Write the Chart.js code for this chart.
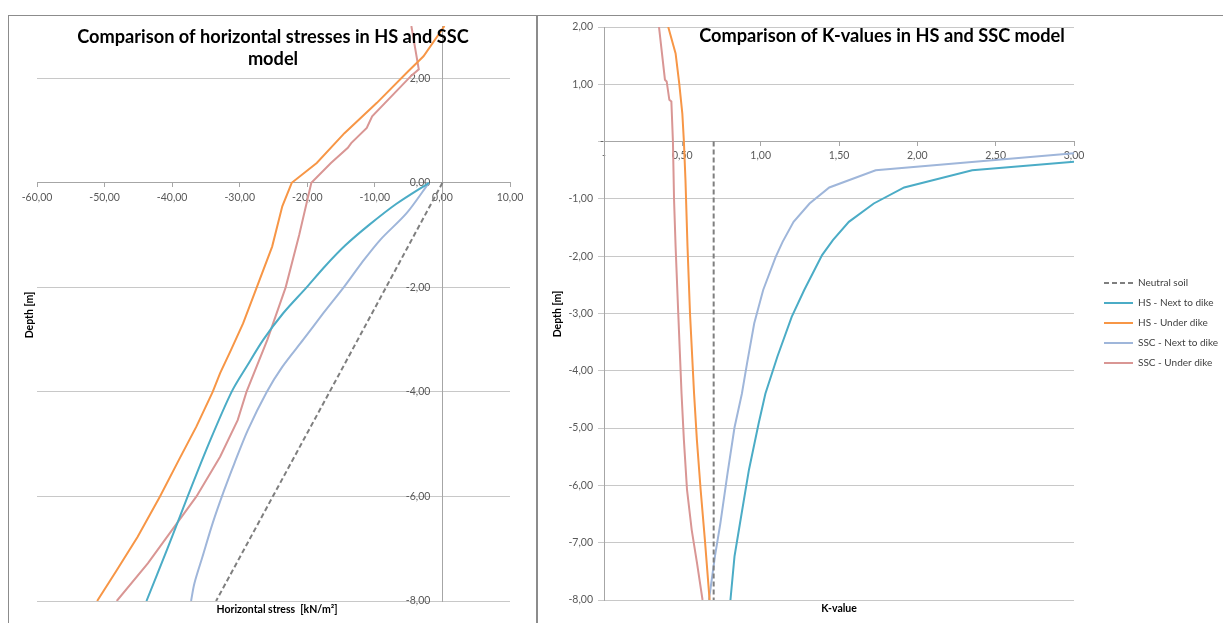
<!DOCTYPE html>
<html>
<head>
<meta charset="utf-8">
<script src="https://cdn.jsdelivr.net/npm/chart.js@4.4.1/dist/chart.umd.min.js"></script>
<style>
	body { margin: 0; background: #fff; width: 1223px; height: 623px; overflow: hidden; position: relative; }
	.frame { position: absolute; border: 1px solid #8c8c8c; }
	.box { position: absolute; top: 0; height: 623px; }
</style>
</head>
<body>
	<div class="frame" style="left: 8px; top: 15px; width: 527px; height: 640px"></div>
	<div class="frame" style="left: 537px; top: 15px; width: 700px; height: 640px"></div>

	<div class="box" style="left: 0; width: 536px"><canvas id="chartStress"></canvas></div>
	<div class="box" style="left: 540px; width: 683px"><canvas id="chartK"></canvas></div>

	<script type="text/javascript">
		// ---- left chart: horizontal stress [kN/m2] against depth [m]
		var stressTicks = [-60, -50, -40, -30, -20, -10, 0, 10];
		var stressDepthTicks = [-8, -6, -4, -2, 0, 2];

		var neutralStress = [0, -16.7, -33.5];
		var neutralStressDepth = [0, -4, -8];

		var hsNextStress = [-2.0, -6.8, -10.8, -14.4, -17.4, -20.1, -23.6, -26.5, -28.9, -31.2, -34.6, -37.7, -40.7, -43.8];
		var hsNextStressDepth = [0, -0.4, -0.8, -1.2, -1.6, -2.0, -2.5, -3.0, -3.5, -4.0, -5.0, -6.0, -7.0, -8.0];

		var hsUnderStress = [0.3, -2.8, -5.1, -9.7, -14.5, -18.6, -22.3, -23.7, -25.2, -27.8, -29.5, -31.3, -32.9, -34.0, -36.4, -39.0, -41.8, -45.1, -48.2, -51.1];
		var hsUnderStressDepth = [3.0, 2.42, 2.13, 1.53, 0.95, 0.38, 0, -0.45, -1.22, -2.11, -2.69, -3.2, -3.64, -4.0, -4.66, -5.3, -6.0, -6.77, -7.41, -8.0];

		var sscNextStress = [-2.0, -5.3, -9.2, -12.0, -14.5, -17.6, -20.6, -23.7, -26.0, -28.8, -30.8, -32.3, -34.0, -35.5, -36.7, -37.2];
		var sscNextStressDepth = [0, -0.58, -1.09, -1.54, -1.98, -2.49, -3.0, -3.52, -4.0, -4.73, -5.37, -5.88, -6.51, -7.15, -7.66, -8.0];

		var sscUnderStress = [-4.6, -3.5, -4.6, -10.4, -11.2, -13.5, -14.0, -16.5, -19.4, -21.2, -23.2, -25.9, -29.0, -30.3, -32.9, -36.4, -40.0, -43.6, -48.2];
		var sscUnderStressDepth = [3.0, 2.17, 2.05, 1.27, 1.05, 0.76, 0.67, 0.38, 0, -1.0, -2.0, -3.0, -4.0, -4.54, -5.24, -6.0, -6.64, -7.28, -8.0];

		// ---- right chart: K-value against depth [m]
		var kTicks = [0, 0.5, 1, 1.5, 2, 2.5, 3];
		var kDepthTicks = [-8, -7, -6, -5, -4, -3, -2, -1, 0, 1, 2];

		var neutralK = [0.70, 0.70];
		var neutralKDepth = [0, -8];

		var hsNextK = [3.0, 2.35, 1.916, 1.722, 1.563, 1.461, 1.392, 1.278, 1.198, 1.107, 1.03, 0.987, 0.925, 0.868, 0.833, 0.807];
		var hsNextKDepth = [-0.35, -0.50, -0.80, -1.08, -1.40, -1.72, -1.98, -2.59, -3.06, -3.75, -4.4, -4.92, -5.73, -6.66, -7.24, -8.0];

		var hsUnderK = [0.41, 0.457, 0.48, 0.50, 0.51, 0.52, 0.533, 0.549, 0.575, 0.593, 0.617, 0.644, 0.674];
		var hsUnderKDepth = [2.0, 1.54, 1.02, 0.49, 0.0, -0.67, -1.83, -3.0, -4.4, -5.21, -6.08, -6.95, -8.0];

		var sscNextK = [3.0, 1.734, 1.438, 1.312, 1.21, 1.14, 1.096, 1.016, 0.959, 0.913, 0.88, 0.833, 0.788, 0.743, 0.708, 0.67];
		var sscNextKDepth = [-0.205, -0.50, -0.80, -1.08, -1.40, -1.75, -2.01, -2.59, -3.17, -3.87, -4.4, -4.99, -5.80, -6.66, -7.24, -8.0];

		var sscUnderK = [0.351, 0.389, 0.40, 0.417, 0.43, 0.44, 0.447, 0.457, 0.474, 0.495, 0.51, 0.53, 0.56, 0.594, 0.629];
		var sscUnderKDepth = [2.0, 1.08, 1.05, 0.73, 0.70, 0.0, -1.0, -1.83, -3.0, -4.4, -5.21, -6.08, -6.78, -7.36, -8.0];

		var seriesNames = ['Neutral soil', 'HS - Next to dike', 'HS - Under dike', 'SSC - Next to dike', 'SSC - Under dike'];
		var seriesColors = ['#7f7f7f', '#4bacc6', '#f79646', '#9fb6da', '#d99694'];

		var gridColor = '#c8c8c8';
		var axisColor = '#a6a6a6';
		var tickColor = '#595959';
		var tickFont = { family: 'Lato', size: 10.5 };

		function comma(v) {
			return v.toFixed(2).replace('.', ',');
		}

		function points(xs, ys) {
			var pts = [];
			for (var i = 0; i < xs.length; i++) {
				pts.push({ x: xs[i], y: ys[i] });
			}
			return pts;
		}

		function makeDatasets(pairs, tensions) {
			return pairs.map(function (p, i) {
				return {
					label: seriesNames[i],
					data: points(p[0], p[1]),
					borderColor: seriesColors[i],
					backgroundColor: seriesColors[i],
					borderWidth: 2,
					borderDash: i == 0 ? [5, 3] : [],
					showLine: true,
					pointRadius: 0,
					tension: tensions ? tensions[i] : 0
				};
			});
		}

		function fixedTicks(list) {
			return function (scale) {
				scale.ticks = list.map(function (v) { return { value: v }; });
			};
		}

		// titles and axis titles drawn as text on the canvas
		var textPlugin = {
			id: 'texts',
			afterDraw: function (chart, args, opts) {
				var ctx = chart.ctx;
				opts.items.forEach(function (t) {
					ctx.save();
					ctx.fillStyle = t.color || '#000';
					ctx.font = t.font;
					ctx.textAlign = 'center';
					ctx.textBaseline = t.baseline || 'alphabetic';
					ctx.translate(t.x, t.y);
					if (t.rot) ctx.rotate(t.rot);
					ctx.fillText(t.text, 0, 0);
					ctx.restore();
				});
			}
		};

		// a y axis placed at x = 0 draws its labels flush on the line; move them off it
		var yLabelGap = {
			id: 'yLabelGap',
			beforeDraw: function (chart, args, opts) {
				var items = chart.scales.y.getLabelItems();
				items.forEach(function (it) {
					if (it.moved || it.label === '-') return;
					it.options.translation[0] -= opts.gap;
					it.moved = true;
				});
			}
		};

		// puts the legend where the reference has it, outside the layout
		var legendSpot = {
			id: 'legendSpot',
			afterLayout: function (chart, args, opts) {
				var lg = chart.legend;
				if (!lg) return;
				lg.left = opts.left;
				lg.right = opts.left + 160;
				lg.top = opts.top;
				lg.bottom = opts.top + 120;
			}
		};

		var ctxStress = document.getElementById('chartStress').getContext('2d');
		var ctxK = document.getElementById('chartK').getContext('2d');

		new Chart(ctxStress, {
			type: 'scatter',
			data: {
				datasets: makeDatasets([
					[neutralStress, neutralStressDepth],
					[hsNextStress, hsNextStressDepth],
					[hsUnderStress, hsUnderStressDepth],
					[sscNextStress, sscNextStressDepth],
					[sscUnderStress, sscUnderStressDepth]
				], [0, 0.3, 0, 0.3, 0])
			},
			options: {
				responsive: true,
				maintainAspectRatio: false,
				animation: false,
				layout: { padding: { left: 37, right: 26, top: 26, bottom: 22 } },
				plugins: {
					legend: { display: false },
					tooltip: { enabled: false },
					yLabelGap: { gap: 12 },
					texts: {
						items: [
							{ text: 'Comparison of horizontal stresses in HS and SSC', x: 273, y: 43, font: 'bold 18.2px Lato' },
							{ text: 'model', x: 273, y: 65, font: 'bold 18.2px Lato' },
							{ text: 'Depth [m]', x: 30, y: 315, rot: -Math.PI / 2, baseline: 'middle', font: 'bold 10.5px Lato' },
							{ text: 'Horizontal stress  [kN/m\u00b2]', x: 277, y: 610, baseline: 'middle', font: 'bold 10.5px Lato' }
						]
					}
				},
				scales: {
					x: {
						type: 'linear', min: -60, max: 10,
						position: { y: 0 },
						afterBuildTicks: fixedTicks(stressTicks),
						grid: { drawOnChartArea: false, drawTicks: true, tickLength: 4, color: axisColor },
						border: { color: axisColor },
						ticks: { color: tickColor, font: tickFont, padding: 4, maxRotation: 0, autoSkip: false, callback: function (v) { return comma(v); } }
					},
					y: {
						type: 'linear', min: -8, max: 3,
						position: { x: 0 },
						afterBuildTicks: fixedTicks(stressDepthTicks),
						grid: { color: gridColor, drawTicks: true, tickLength: 6 },
						border: { color: axisColor },
						ticks: { color: tickColor, font: tickFont, autoSkip: false, callback: function (v) { return comma(v); } }
					}
				}
			},
			plugins: [textPlugin, yLabelGap]
		});

		new Chart(ctxK, {
			type: 'scatter',
			data: {
				datasets: makeDatasets([
					[neutralK, neutralKDepth],
					[hsNextK, hsNextKDepth],
					[hsUnderK, hsUnderKDepth],
					[sscNextK, sscNextKDepth],
					[sscUnderK, sscUnderKDepth]
				])
			},
			options: {
				responsive: true,
				maintainAspectRatio: false,
				animation: false,
				layout: { padding: { left: 64, right: 148, top: 27, bottom: 23 } },
				plugins: {
					legend: {
						position: 'right',
						align: 'start',
						maxWidth: 1,
						labels: {
							usePointStyle: true, pointStyle: 'line', pointStyleWidth: 29, boxHeight: 8,
							padding: 10, color: '#404040', font: { family: 'Lato', size: 10 },
							generateLabels: function (chart) {
								var items = Chart.defaults.plugins.legend.labels.generateLabels(chart);
								items.forEach(function (it) {
									var ds = chart.data.datasets[it.datasetIndex];
									it.lineDash = ds.borderDash;
									it.strokeStyle = ds.borderColor;
									it.lineWidth = 2;
								});
								return items;
							}
						}
					},
					legendSpot: { left: 554, top: 268 },
					yLabelGap: { gap: 11 },
					tooltip: { enabled: false },
					texts: {
						items: [
							{ text: 'Comparison of K-values in HS and SSC model', x: 342, y: 42, font: 'bold 18.2px Lato' },
							{ text: 'Depth [m]', x: 18, y: 314, rot: -Math.PI / 2, baseline: 'middle', font: 'bold 10.5px Lato' },
							{ text: 'K-value', x: 299, y: 609, baseline: 'middle', font: 'bold 10.5px Lato' }
						]
					}
				},
				scales: {
					x: {
						type: 'linear', min: 0, max: 3,
						position: { y: 0 },
						afterBuildTicks: fixedTicks(kTicks),
						grid: { drawOnChartArea: false, drawTicks: true, tickLength: 4, color: axisColor },
						border: { color: axisColor },
						ticks: { color: tickColor, font: tickFont, padding: 4, maxRotation: 0, autoSkip: false, callback: function (v) { return v == 0 ? '-' : comma(v); } }
					},
					y: {
						type: 'linear', min: -8, max: 2,
						position: { x: 0 },
						afterBuildTicks: fixedTicks(kDepthTicks),
						grid: { color: gridColor, drawTicks: true, tickLength: 6 },
						border: { color: axisColor },
						ticks: { color: tickColor, font: tickFont, autoSkip: false, callback: function (v) { return v == 0 ? '-' : comma(v); } }
					}
				}
			},
			plugins: [textPlugin, legendSpot, yLabelGap]
		});
	</script>
</body>
</html>
